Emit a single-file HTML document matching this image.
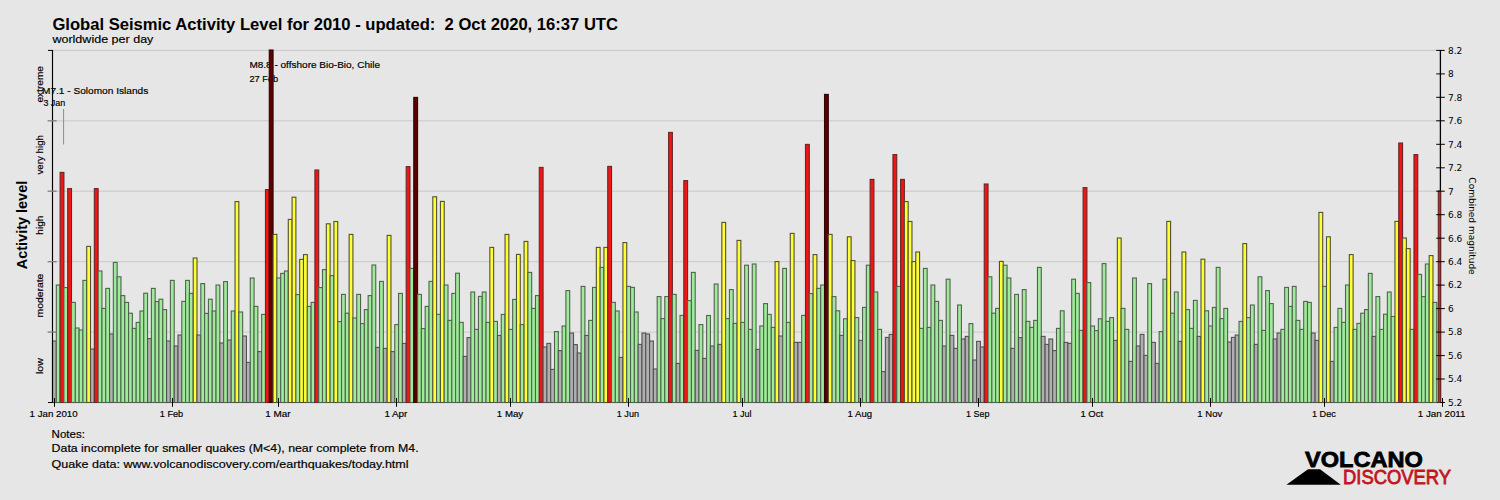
<!DOCTYPE html>
<html lang="en"><head><meta charset="utf-8">
<title>Global Seismic Activity Level for 2010</title>
<style>
html,body{margin:0;padding:0;background:#e6e6e6;}
body{width:1500px;height:500px;overflow:hidden;}
svg{display:block;}
text{font-family:'Liberation Sans', Arial, Helvetica, sans-serif;fill:#000;}.t{stroke:#000;stroke-width:0.18px}
.dj{font-family:'DejaVu Sans', 'Liberation Sans', Verdana, sans-serif;}
.g{fill:#a0eb9b;stroke:#50624e}.a{fill:#b0b0b0;stroke:#525252}.y{fill:#ffff33;stroke:#505034}.r{fill:#f51414;stroke:#642828}.d{fill:#5c0000;stroke:#2e0404}
#bars rect{stroke-width:1.1}
</style></head><body>
<svg width="1500" height="500" viewBox="0 0 1500 500">
<rect x="0" y="0" width="1500" height="500" fill="#e6e6e6"/>
<g stroke="#c9c9c9" stroke-width="1">
<line x1="52.5" y1="50.4" x2="1440.4" y2="50.4"/>
<line x1="52.5" y1="120.8" x2="1440.4" y2="120.8"/>
<line x1="52.5" y1="191.2" x2="1440.4" y2="191.2"/>
<line x1="52.5" y1="261.7" x2="1440.4" y2="261.7"/>
<line x1="52.5" y1="332.1" x2="1440.4" y2="332.1"/>
</g>
<text xml:space="preserve" style="white-space:pre" x="52.4" y="29.5" font-size="16.5" font-weight="bold" textLength="565.6" lengthAdjust="spacingAndGlyphs">Global Seismic Activity Level for 2010 - updated:  2 Oct 2020, 16:37 UTC</text>
<text x="52.4" y="43" class="t" font-size="11.4" textLength="101" lengthAdjust="spacingAndGlyphs">worldwide per day</text>
<text transform="translate(42.8,366.0) rotate(-90)" x="-8.0" y="0" class="t" font-size="9.8" textLength="16.0" lengthAdjust="spacingAndGlyphs">low</text>
<text transform="translate(42.8,295.6) rotate(-90)" x="-21.9" y="0" class="t" font-size="9.8" textLength="43.8" lengthAdjust="spacingAndGlyphs">moderate</text>
<text transform="translate(42.8,225.1) rotate(-90)" x="-9.7" y="0" class="t" font-size="9.8" textLength="19.3" lengthAdjust="spacingAndGlyphs">high</text>
<text transform="translate(42.8,154.7) rotate(-90)" x="-19.8" y="0" class="t" font-size="9.8" textLength="39.5" lengthAdjust="spacingAndGlyphs">very high</text>
<text transform="translate(42.8,84.3) rotate(-90)" x="-18.3" y="0" class="t" font-size="9.8" textLength="36.6" lengthAdjust="spacingAndGlyphs">extreme</text>
<text transform="translate(27,225) rotate(-90)" text-anchor="middle" font-size="15" font-weight="bold" textLength="88.5" lengthAdjust="spacingAndGlyphs">Activity level</text>
<line x1="1440.4" y1="49.9" x2="1440.4" y2="403.0" stroke="#000" stroke-width="1.3"/>
<line x1="48" y1="402.5" x2="1444.7" y2="402.5" stroke="#000" stroke-width="1"/>
<line x1="63.6" y1="109" x2="63.6" y2="144.5" stroke="#8c8c8c" stroke-width="1"/>
<text x="42" y="94" class="t" font-size="9.6" textLength="106.2" lengthAdjust="spacingAndGlyphs">M7.1 - Solomon Islands</text>
<text x="43.4" y="106.4" class="t" font-size="9.6" textLength="21.8" lengthAdjust="spacingAndGlyphs">3 Jan</text>
<text x="249.4" y="68" class="t" font-size="9.6" textLength="130.6" lengthAdjust="spacingAndGlyphs">M8.8 - offshore Bio-Bio, Chile</text>
<text x="249.4" y="82" class="t" font-size="9.6" textLength="28.8" lengthAdjust="spacingAndGlyphs">27 Feb</text>
<g id="bars">
<rect class="a" x="52.50" y="341.0" width="3.80" height="61.5"/>
<rect class="g" x="56.30" y="285.0" width="3.80" height="117.5"/>
<rect class="r" x="60.11" y="172.4" width="3.80" height="230.1"/>
<rect class="g" x="63.91" y="287.6" width="3.80" height="114.9"/>
<rect class="r" x="67.71" y="188.6" width="3.80" height="213.9"/>
<rect class="g" x="71.52" y="302.4" width="3.80" height="100.1"/>
<rect class="g" x="75.32" y="328.0" width="3.80" height="74.5"/>
<rect class="g" x="79.12" y="330.0" width="3.80" height="72.5"/>
<rect class="g" x="82.92" y="280.4" width="3.80" height="122.1"/>
<rect class="y" x="86.73" y="246.4" width="3.80" height="156.1"/>
<rect class="a" x="90.53" y="349.0" width="3.80" height="53.5"/>
<rect class="r" x="94.33" y="188.6" width="3.80" height="213.9"/>
<rect class="g" x="98.14" y="271.0" width="3.80" height="131.5"/>
<rect class="g" x="101.94" y="308.4" width="3.80" height="94.1"/>
<rect class="g" x="105.74" y="288.4" width="3.80" height="114.1"/>
<rect class="a" x="109.55" y="334.0" width="3.80" height="68.5"/>
<rect class="g" x="113.35" y="262.4" width="3.80" height="140.1"/>
<rect class="g" x="117.15" y="276.8" width="3.80" height="125.7"/>
<rect class="g" x="120.95" y="295.6" width="3.80" height="106.9"/>
<rect class="g" x="124.76" y="302.4" width="3.80" height="100.1"/>
<rect class="g" x="128.56" y="313.2" width="3.80" height="89.3"/>
<rect class="g" x="132.36" y="328.4" width="3.80" height="74.1"/>
<rect class="g" x="136.17" y="322.4" width="3.80" height="80.1"/>
<rect class="g" x="139.97" y="311.0" width="3.80" height="91.5"/>
<rect class="g" x="143.77" y="293.2" width="3.80" height="109.3"/>
<rect class="a" x="147.57" y="338.6" width="3.80" height="63.9"/>
<rect class="g" x="151.38" y="288.4" width="3.80" height="114.1"/>
<rect class="g" x="155.18" y="301.6" width="3.80" height="100.9"/>
<rect class="g" x="158.98" y="299.2" width="3.80" height="103.3"/>
<rect class="g" x="162.79" y="309.6" width="3.80" height="92.9"/>
<rect class="a" x="166.59" y="341.0" width="3.80" height="61.5"/>
<rect class="g" x="170.39" y="280.4" width="3.80" height="122.1"/>
<rect class="a" x="174.20" y="346.0" width="3.80" height="56.5"/>
<rect class="a" x="178.00" y="335.0" width="3.80" height="67.5"/>
<rect class="g" x="181.80" y="301.4" width="3.80" height="101.1"/>
<rect class="g" x="185.60" y="280.4" width="3.80" height="122.1"/>
<rect class="g" x="189.41" y="293.4" width="3.80" height="109.1"/>
<rect class="y" x="193.21" y="258.0" width="3.80" height="144.5"/>
<rect class="a" x="197.01" y="335.0" width="3.80" height="67.5"/>
<rect class="g" x="200.82" y="283.6" width="3.80" height="118.9"/>
<rect class="g" x="204.62" y="313.4" width="3.80" height="89.1"/>
<rect class="g" x="208.42" y="299.2" width="3.80" height="103.3"/>
<rect class="g" x="212.23" y="311.0" width="3.80" height="91.5"/>
<rect class="g" x="216.03" y="285.0" width="3.80" height="117.5"/>
<rect class="a" x="219.83" y="343.0" width="3.80" height="59.5"/>
<rect class="g" x="223.63" y="281.6" width="3.80" height="120.9"/>
<rect class="a" x="227.44" y="340.0" width="3.80" height="62.5"/>
<rect class="g" x="231.24" y="311.0" width="3.80" height="91.5"/>
<rect class="y" x="235.04" y="201.6" width="3.80" height="200.9"/>
<rect class="g" x="238.85" y="312.0" width="3.80" height="90.5"/>
<rect class="a" x="242.65" y="336.0" width="3.80" height="66.5"/>
<rect class="a" x="246.45" y="362.4" width="3.80" height="40.1"/>
<rect class="g" x="250.26" y="278.0" width="3.80" height="124.5"/>
<rect class="g" x="254.06" y="306.4" width="3.80" height="96.1"/>
<rect class="a" x="257.86" y="351.6" width="3.80" height="50.9"/>
<rect class="g" x="261.66" y="314.4" width="3.80" height="88.1"/>
<rect class="r" x="265.47" y="189.6" width="3.80" height="212.9"/>
<rect class="d" x="269.27" y="50.0" width="3.80" height="352.5"/>
<rect class="y" x="273.07" y="234.4" width="3.80" height="168.1"/>
<rect class="g" x="276.88" y="278.0" width="3.80" height="124.5"/>
<rect class="g" x="280.68" y="273.4" width="3.80" height="129.1"/>
<rect class="g" x="284.48" y="271.0" width="3.80" height="131.5"/>
<rect class="y" x="288.29" y="219.4" width="3.80" height="183.1"/>
<rect class="y" x="292.09" y="197.2" width="3.80" height="205.3"/>
<rect class="g" x="295.89" y="294.6" width="3.80" height="107.9"/>
<rect class="y" x="299.69" y="259.4" width="3.80" height="143.1"/>
<rect class="y" x="303.50" y="254.6" width="3.80" height="147.9"/>
<rect class="g" x="307.30" y="306.4" width="3.80" height="96.1"/>
<rect class="g" x="311.10" y="302.4" width="3.80" height="100.1"/>
<rect class="r" x="314.91" y="170.0" width="3.80" height="232.5"/>
<rect class="g" x="318.71" y="287.6" width="3.80" height="114.9"/>
<rect class="g" x="322.51" y="269.6" width="3.80" height="132.9"/>
<rect class="y" x="326.32" y="223.8" width="3.80" height="178.7"/>
<rect class="g" x="330.12" y="275.6" width="3.80" height="126.9"/>
<rect class="y" x="333.92" y="221.5" width="3.80" height="181.0"/>
<rect class="g" x="337.73" y="321.6" width="3.80" height="80.9"/>
<rect class="g" x="341.53" y="294.4" width="3.80" height="108.1"/>
<rect class="g" x="345.33" y="313.2" width="3.80" height="89.3"/>
<rect class="y" x="349.13" y="234.4" width="3.80" height="168.1"/>
<rect class="g" x="352.94" y="318.0" width="3.80" height="84.5"/>
<rect class="g" x="356.74" y="294.4" width="3.80" height="108.1"/>
<rect class="g" x="360.54" y="323.6" width="3.80" height="78.9"/>
<rect class="g" x="364.35" y="309.6" width="3.80" height="92.9"/>
<rect class="g" x="368.15" y="295.6" width="3.80" height="106.9"/>
<rect class="g" x="371.95" y="265.0" width="3.80" height="137.5"/>
<rect class="a" x="375.75" y="347.4" width="3.80" height="55.1"/>
<rect class="g" x="379.56" y="281.4" width="3.80" height="121.1"/>
<rect class="a" x="383.36" y="348.4" width="3.80" height="54.1"/>
<rect class="y" x="387.16" y="235.4" width="3.80" height="167.1"/>
<rect class="a" x="390.97" y="351.6" width="3.80" height="50.9"/>
<rect class="g" x="394.77" y="324.6" width="3.80" height="77.9"/>
<rect class="g" x="398.57" y="293.4" width="3.80" height="109.1"/>
<rect class="a" x="402.38" y="343.4" width="3.80" height="59.1"/>
<rect class="r" x="406.18" y="166.6" width="3.80" height="235.9"/>
<rect class="g" x="409.98" y="268.4" width="3.80" height="134.1"/>
<rect class="d" x="413.78" y="97.4" width="3.80" height="305.1"/>
<rect class="g" x="417.59" y="294.4" width="3.80" height="108.1"/>
<rect class="g" x="421.39" y="328.6" width="3.80" height="73.9"/>
<rect class="g" x="425.19" y="306.4" width="3.80" height="96.1"/>
<rect class="g" x="429.00" y="281.4" width="3.80" height="121.1"/>
<rect class="y" x="432.80" y="196.8" width="3.80" height="205.7"/>
<rect class="g" x="436.60" y="314.4" width="3.80" height="88.1"/>
<rect class="y" x="440.41" y="201.4" width="3.80" height="201.1"/>
<rect class="g" x="444.21" y="285.0" width="3.80" height="117.5"/>
<rect class="g" x="448.01" y="320.4" width="3.80" height="82.1"/>
<rect class="g" x="451.81" y="293.4" width="3.80" height="109.1"/>
<rect class="g" x="455.62" y="273.2" width="3.80" height="129.3"/>
<rect class="g" x="459.42" y="322.4" width="3.80" height="80.1"/>
<rect class="a" x="463.22" y="356.4" width="3.80" height="46.1"/>
<rect class="a" x="467.03" y="337.6" width="3.80" height="64.9"/>
<rect class="g" x="470.83" y="292.0" width="3.80" height="110.5"/>
<rect class="g" x="474.63" y="329.4" width="3.80" height="73.1"/>
<rect class="g" x="478.44" y="296.4" width="3.80" height="106.1"/>
<rect class="g" x="482.24" y="292.0" width="3.80" height="110.5"/>
<rect class="g" x="486.04" y="322.4" width="3.80" height="80.1"/>
<rect class="y" x="489.84" y="247.4" width="3.80" height="155.1"/>
<rect class="g" x="493.65" y="321.4" width="3.80" height="81.1"/>
<rect class="a" x="497.45" y="335.4" width="3.80" height="67.1"/>
<rect class="g" x="501.25" y="314.4" width="3.80" height="88.1"/>
<rect class="y" x="505.06" y="234.4" width="3.80" height="168.1"/>
<rect class="g" x="508.86" y="329.4" width="3.80" height="73.1"/>
<rect class="g" x="512.66" y="299.4" width="3.80" height="103.1"/>
<rect class="y" x="516.47" y="254.4" width="3.80" height="148.1"/>
<rect class="g" x="520.27" y="324.6" width="3.80" height="77.9"/>
<rect class="y" x="524.07" y="241.4" width="3.80" height="161.1"/>
<rect class="g" x="527.88" y="272.4" width="3.80" height="130.1"/>
<rect class="g" x="531.68" y="308.4" width="3.80" height="94.1"/>
<rect class="g" x="535.48" y="295.6" width="3.80" height="106.9"/>
<rect class="r" x="539.28" y="167.4" width="3.80" height="235.1"/>
<rect class="a" x="543.09" y="347.0" width="3.80" height="55.5"/>
<rect class="a" x="546.89" y="343.4" width="3.80" height="59.1"/>
<rect class="a" x="550.69" y="369.4" width="3.80" height="33.1"/>
<rect class="g" x="554.50" y="331.6" width="3.80" height="70.9"/>
<rect class="a" x="558.30" y="350.6" width="3.80" height="51.9"/>
<rect class="g" x="562.10" y="326.0" width="3.80" height="76.5"/>
<rect class="g" x="565.90" y="290.6" width="3.80" height="111.9"/>
<rect class="a" x="569.71" y="333.0" width="3.80" height="69.5"/>
<rect class="a" x="573.51" y="344.6" width="3.80" height="57.9"/>
<rect class="a" x="577.31" y="353.0" width="3.80" height="49.5"/>
<rect class="g" x="581.12" y="286.4" width="3.80" height="116.1"/>
<rect class="a" x="584.92" y="335.4" width="3.80" height="67.1"/>
<rect class="g" x="588.72" y="320.4" width="3.80" height="82.1"/>
<rect class="g" x="592.53" y="287.4" width="3.80" height="115.1"/>
<rect class="y" x="596.33" y="247.4" width="3.80" height="155.1"/>
<rect class="g" x="600.13" y="267.4" width="3.80" height="135.1"/>
<rect class="y" x="603.93" y="247.4" width="3.80" height="155.1"/>
<rect class="r" x="607.74" y="166.4" width="3.80" height="236.1"/>
<rect class="g" x="611.54" y="302.4" width="3.80" height="100.1"/>
<rect class="g" x="615.34" y="311.0" width="3.80" height="91.5"/>
<rect class="a" x="619.15" y="357.4" width="3.80" height="45.1"/>
<rect class="y" x="622.95" y="242.6" width="3.80" height="159.9"/>
<rect class="g" x="626.75" y="286.4" width="3.80" height="116.1"/>
<rect class="g" x="630.56" y="287.4" width="3.80" height="115.1"/>
<rect class="g" x="634.36" y="312.0" width="3.80" height="90.5"/>
<rect class="a" x="638.16" y="344.4" width="3.80" height="58.1"/>
<rect class="a" x="641.97" y="333.0" width="3.80" height="69.5"/>
<rect class="a" x="645.77" y="334.0" width="3.80" height="68.5"/>
<rect class="a" x="649.57" y="341.0" width="3.80" height="61.5"/>
<rect class="a" x="653.37" y="369.0" width="3.80" height="33.5"/>
<rect class="g" x="657.18" y="296.6" width="3.80" height="105.9"/>
<rect class="g" x="660.98" y="318.6" width="3.80" height="83.9"/>
<rect class="g" x="664.78" y="296.6" width="3.80" height="105.9"/>
<rect class="r" x="668.59" y="132.4" width="3.80" height="270.1"/>
<rect class="g" x="672.39" y="294.4" width="3.80" height="108.1"/>
<rect class="a" x="676.19" y="363.4" width="3.80" height="39.1"/>
<rect class="g" x="680.00" y="315.4" width="3.80" height="87.1"/>
<rect class="r" x="683.80" y="180.6" width="3.80" height="221.9"/>
<rect class="g" x="687.60" y="300.6" width="3.80" height="101.9"/>
<rect class="g" x="691.40" y="272.4" width="3.80" height="130.1"/>
<rect class="a" x="695.21" y="350.4" width="3.80" height="52.1"/>
<rect class="g" x="699.01" y="324.6" width="3.80" height="77.9"/>
<rect class="a" x="702.81" y="358.4" width="3.80" height="44.1"/>
<rect class="g" x="706.62" y="315.5" width="3.80" height="87.0"/>
<rect class="a" x="710.42" y="346.0" width="3.80" height="56.5"/>
<rect class="g" x="714.22" y="284.0" width="3.80" height="118.5"/>
<rect class="a" x="718.02" y="344.4" width="3.80" height="58.1"/>
<rect class="y" x="721.83" y="222.4" width="3.80" height="180.1"/>
<rect class="g" x="725.63" y="318.6" width="3.80" height="83.9"/>
<rect class="g" x="729.43" y="289.6" width="3.80" height="112.9"/>
<rect class="g" x="733.24" y="323.4" width="3.80" height="79.1"/>
<rect class="y" x="737.04" y="240.4" width="3.80" height="162.1"/>
<rect class="g" x="740.84" y="322.4" width="3.80" height="80.1"/>
<rect class="g" x="744.65" y="265.2" width="3.80" height="137.3"/>
<rect class="g" x="748.45" y="329.4" width="3.80" height="73.1"/>
<rect class="g" x="752.25" y="264.0" width="3.80" height="138.5"/>
<rect class="a" x="756.05" y="349.4" width="3.80" height="53.1"/>
<rect class="g" x="759.86" y="326.0" width="3.80" height="76.5"/>
<rect class="g" x="763.66" y="303.6" width="3.80" height="98.9"/>
<rect class="g" x="767.46" y="314.4" width="3.80" height="88.1"/>
<rect class="g" x="771.27" y="327.4" width="3.80" height="75.1"/>
<rect class="y" x="775.07" y="261.6" width="3.80" height="140.9"/>
<rect class="a" x="778.87" y="336.0" width="3.80" height="66.5"/>
<rect class="g" x="782.68" y="268.4" width="3.80" height="134.1"/>
<rect class="g" x="786.48" y="322.4" width="3.80" height="80.1"/>
<rect class="y" x="790.28" y="233.4" width="3.80" height="169.1"/>
<rect class="a" x="794.09" y="342.4" width="3.80" height="60.1"/>
<rect class="a" x="797.89" y="342.4" width="3.80" height="60.1"/>
<rect class="g" x="801.69" y="315.4" width="3.80" height="87.1"/>
<rect class="r" x="805.49" y="144.4" width="3.80" height="258.1"/>
<rect class="g" x="809.30" y="293.6" width="3.80" height="108.9"/>
<rect class="y" x="813.10" y="254.6" width="3.80" height="147.9"/>
<rect class="g" x="816.90" y="288.4" width="3.80" height="114.1"/>
<rect class="g" x="820.71" y="285.0" width="3.80" height="117.5"/>
<rect class="d" x="824.51" y="94.4" width="3.80" height="308.1"/>
<rect class="y" x="828.31" y="234.4" width="3.80" height="168.1"/>
<rect class="g" x="832.12" y="296.6" width="3.80" height="105.9"/>
<rect class="g" x="835.92" y="310.8" width="3.80" height="91.7"/>
<rect class="a" x="839.72" y="335.4" width="3.80" height="67.1"/>
<rect class="g" x="843.52" y="318.8" width="3.80" height="83.7"/>
<rect class="y" x="847.33" y="236.8" width="3.80" height="165.7"/>
<rect class="y" x="851.13" y="260.6" width="3.80" height="141.9"/>
<rect class="g" x="854.93" y="317.6" width="3.80" height="84.9"/>
<rect class="a" x="858.74" y="340.4" width="3.80" height="62.1"/>
<rect class="g" x="862.54" y="307.4" width="3.80" height="95.1"/>
<rect class="g" x="866.34" y="265.2" width="3.80" height="137.3"/>
<rect class="r" x="870.14" y="179.4" width="3.80" height="223.1"/>
<rect class="g" x="873.95" y="292.0" width="3.80" height="110.5"/>
<rect class="g" x="877.75" y="329.4" width="3.80" height="73.1"/>
<rect class="a" x="881.55" y="371.6" width="3.80" height="30.9"/>
<rect class="a" x="885.36" y="337.4" width="3.80" height="65.1"/>
<rect class="a" x="889.16" y="334.4" width="3.80" height="68.1"/>
<rect class="r" x="892.96" y="154.6" width="3.80" height="247.9"/>
<rect class="g" x="896.77" y="286.4" width="3.80" height="116.1"/>
<rect class="r" x="900.57" y="179.4" width="3.80" height="223.1"/>
<rect class="y" x="904.37" y="201.6" width="3.80" height="200.9"/>
<rect class="y" x="908.17" y="221.5" width="3.80" height="181.0"/>
<rect class="y" x="911.98" y="261.6" width="3.80" height="140.9"/>
<rect class="y" x="915.78" y="252.0" width="3.80" height="150.5"/>
<rect class="g" x="919.58" y="328.4" width="3.80" height="74.1"/>
<rect class="g" x="923.39" y="268.4" width="3.80" height="134.1"/>
<rect class="g" x="927.19" y="327.4" width="3.80" height="75.1"/>
<rect class="g" x="930.99" y="285.0" width="3.80" height="117.5"/>
<rect class="g" x="934.80" y="301.4" width="3.80" height="101.1"/>
<rect class="g" x="938.60" y="320.4" width="3.80" height="82.1"/>
<rect class="a" x="942.40" y="346.0" width="3.80" height="56.5"/>
<rect class="g" x="946.21" y="279.2" width="3.80" height="123.3"/>
<rect class="a" x="950.01" y="335.4" width="3.80" height="67.1"/>
<rect class="a" x="953.81" y="348.4" width="3.80" height="54.1"/>
<rect class="g" x="957.61" y="305.0" width="3.80" height="97.5"/>
<rect class="a" x="961.42" y="339.0" width="3.80" height="63.5"/>
<rect class="a" x="965.22" y="336.4" width="3.80" height="66.1"/>
<rect class="g" x="969.02" y="323.6" width="3.80" height="78.9"/>
<rect class="a" x="972.83" y="360.0" width="3.80" height="42.5"/>
<rect class="a" x="976.63" y="341.4" width="3.80" height="61.1"/>
<rect class="a" x="980.43" y="347.0" width="3.80" height="55.5"/>
<rect class="r" x="984.24" y="184.0" width="3.80" height="218.5"/>
<rect class="g" x="988.04" y="276.8" width="3.80" height="125.7"/>
<rect class="g" x="991.84" y="313.2" width="3.80" height="89.3"/>
<rect class="g" x="995.64" y="308.4" width="3.80" height="94.1"/>
<rect class="y" x="999.45" y="261.4" width="3.80" height="141.1"/>
<rect class="g" x="1003.25" y="265.2" width="3.80" height="137.3"/>
<rect class="g" x="1007.05" y="278.0" width="3.80" height="124.5"/>
<rect class="a" x="1010.86" y="348.4" width="3.80" height="54.1"/>
<rect class="g" x="1014.66" y="294.4" width="3.80" height="108.1"/>
<rect class="a" x="1018.46" y="337.6" width="3.80" height="64.9"/>
<rect class="g" x="1022.26" y="289.6" width="3.80" height="112.9"/>
<rect class="g" x="1026.07" y="321.4" width="3.80" height="81.1"/>
<rect class="g" x="1029.87" y="327.4" width="3.80" height="75.1"/>
<rect class="g" x="1033.67" y="320.4" width="3.80" height="82.1"/>
<rect class="g" x="1037.48" y="267.4" width="3.80" height="135.1"/>
<rect class="a" x="1041.28" y="336.4" width="3.80" height="66.1"/>
<rect class="a" x="1045.08" y="344.4" width="3.80" height="58.1"/>
<rect class="a" x="1048.89" y="339.0" width="3.80" height="63.5"/>
<rect class="a" x="1052.69" y="350.6" width="3.80" height="51.9"/>
<rect class="g" x="1056.49" y="328.4" width="3.80" height="74.1"/>
<rect class="g" x="1060.30" y="310.8" width="3.80" height="91.7"/>
<rect class="a" x="1064.10" y="342.4" width="3.80" height="60.1"/>
<rect class="a" x="1067.90" y="343.4" width="3.80" height="59.1"/>
<rect class="g" x="1071.70" y="279.2" width="3.80" height="123.3"/>
<rect class="g" x="1075.51" y="293.4" width="3.80" height="109.1"/>
<rect class="g" x="1079.31" y="330.4" width="3.80" height="72.1"/>
<rect class="r" x="1083.11" y="187.6" width="3.80" height="214.9"/>
<rect class="g" x="1086.92" y="282.6" width="3.80" height="119.9"/>
<rect class="g" x="1090.72" y="326.0" width="3.80" height="76.5"/>
<rect class="g" x="1094.52" y="330.6" width="3.80" height="71.9"/>
<rect class="g" x="1098.33" y="318.8" width="3.80" height="83.7"/>
<rect class="g" x="1102.13" y="263.6" width="3.80" height="138.9"/>
<rect class="g" x="1105.93" y="321.4" width="3.80" height="81.1"/>
<rect class="g" x="1109.73" y="317.6" width="3.80" height="84.9"/>
<rect class="a" x="1113.54" y="340.4" width="3.80" height="62.1"/>
<rect class="y" x="1117.34" y="238.0" width="3.80" height="164.5"/>
<rect class="g" x="1121.14" y="308.4" width="3.80" height="94.1"/>
<rect class="g" x="1124.95" y="329.4" width="3.80" height="73.1"/>
<rect class="a" x="1128.75" y="361.4" width="3.80" height="41.1"/>
<rect class="g" x="1132.55" y="278.0" width="3.80" height="124.5"/>
<rect class="a" x="1136.36" y="346.0" width="3.80" height="56.5"/>
<rect class="a" x="1140.16" y="334.4" width="3.80" height="68.1"/>
<rect class="a" x="1143.96" y="355.4" width="3.80" height="47.1"/>
<rect class="g" x="1147.76" y="283.6" width="3.80" height="118.9"/>
<rect class="a" x="1151.57" y="342.4" width="3.80" height="60.1"/>
<rect class="a" x="1155.37" y="363.4" width="3.80" height="39.1"/>
<rect class="g" x="1159.17" y="331.6" width="3.80" height="70.9"/>
<rect class="g" x="1162.98" y="279.2" width="3.80" height="123.3"/>
<rect class="y" x="1166.78" y="221.4" width="3.80" height="181.1"/>
<rect class="g" x="1170.58" y="313.2" width="3.80" height="89.3"/>
<rect class="g" x="1174.38" y="292.0" width="3.80" height="110.5"/>
<rect class="a" x="1178.19" y="341.4" width="3.80" height="61.1"/>
<rect class="y" x="1181.99" y="252.0" width="3.80" height="150.5"/>
<rect class="g" x="1185.79" y="309.6" width="3.80" height="92.9"/>
<rect class="g" x="1189.60" y="328.4" width="3.80" height="74.1"/>
<rect class="g" x="1193.40" y="300.4" width="3.80" height="102.1"/>
<rect class="a" x="1197.20" y="336.4" width="3.80" height="66.1"/>
<rect class="y" x="1201.01" y="259.2" width="3.80" height="143.3"/>
<rect class="g" x="1204.81" y="310.8" width="3.80" height="91.7"/>
<rect class="g" x="1208.61" y="326.0" width="3.80" height="76.5"/>
<rect class="g" x="1212.41" y="307.4" width="3.80" height="95.1"/>
<rect class="g" x="1216.22" y="267.4" width="3.80" height="135.1"/>
<rect class="g" x="1220.02" y="318.6" width="3.80" height="83.9"/>
<rect class="g" x="1223.82" y="308.4" width="3.80" height="94.1"/>
<rect class="a" x="1227.63" y="342.0" width="3.80" height="60.5"/>
<rect class="a" x="1231.43" y="337.4" width="3.80" height="65.1"/>
<rect class="a" x="1235.23" y="335.0" width="3.80" height="67.5"/>
<rect class="g" x="1239.04" y="321.4" width="3.80" height="81.1"/>
<rect class="y" x="1242.84" y="243.6" width="3.80" height="158.9"/>
<rect class="g" x="1246.64" y="317.6" width="3.80" height="84.9"/>
<rect class="g" x="1250.44" y="305.0" width="3.80" height="97.5"/>
<rect class="a" x="1254.25" y="344.4" width="3.80" height="58.1"/>
<rect class="g" x="1258.05" y="276.8" width="3.80" height="125.7"/>
<rect class="g" x="1261.85" y="330.4" width="3.80" height="72.1"/>
<rect class="g" x="1265.66" y="290.6" width="3.80" height="111.9"/>
<rect class="g" x="1269.46" y="303.6" width="3.80" height="98.9"/>
<rect class="a" x="1273.26" y="339.0" width="3.80" height="63.5"/>
<rect class="a" x="1277.07" y="333.0" width="3.80" height="69.5"/>
<rect class="g" x="1280.87" y="329.4" width="3.80" height="73.1"/>
<rect class="g" x="1284.67" y="287.4" width="3.80" height="115.1"/>
<rect class="g" x="1288.47" y="306.4" width="3.80" height="96.1"/>
<rect class="g" x="1292.28" y="286.4" width="3.80" height="116.1"/>
<rect class="g" x="1296.08" y="320.4" width="3.80" height="82.1"/>
<rect class="g" x="1299.88" y="329.4" width="3.80" height="73.1"/>
<rect class="g" x="1303.69" y="301.4" width="3.80" height="101.1"/>
<rect class="g" x="1307.49" y="302.4" width="3.80" height="100.1"/>
<rect class="a" x="1311.29" y="333.0" width="3.80" height="69.5"/>
<rect class="a" x="1315.10" y="340.4" width="3.80" height="62.1"/>
<rect class="y" x="1318.90" y="212.4" width="3.80" height="190.1"/>
<rect class="g" x="1322.70" y="286.4" width="3.80" height="116.1"/>
<rect class="y" x="1326.50" y="236.8" width="3.80" height="165.7"/>
<rect class="a" x="1330.31" y="361.4" width="3.80" height="41.1"/>
<rect class="g" x="1334.11" y="327.4" width="3.80" height="75.1"/>
<rect class="g" x="1337.91" y="308.4" width="3.80" height="94.1"/>
<rect class="g" x="1341.72" y="322.4" width="3.80" height="80.1"/>
<rect class="g" x="1345.52" y="285.0" width="3.80" height="117.5"/>
<rect class="y" x="1349.32" y="254.6" width="3.80" height="147.9"/>
<rect class="g" x="1353.13" y="329.4" width="3.80" height="73.1"/>
<rect class="g" x="1356.93" y="323.4" width="3.80" height="79.1"/>
<rect class="g" x="1360.73" y="313.2" width="3.80" height="89.3"/>
<rect class="g" x="1364.54" y="309.6" width="3.80" height="92.9"/>
<rect class="g" x="1368.34" y="273.4" width="3.80" height="129.1"/>
<rect class="a" x="1372.14" y="336.4" width="3.80" height="66.1"/>
<rect class="g" x="1375.94" y="296.6" width="3.80" height="105.9"/>
<rect class="g" x="1379.75" y="329.4" width="3.80" height="73.1"/>
<rect class="g" x="1383.55" y="314.2" width="3.80" height="88.3"/>
<rect class="g" x="1387.35" y="292.0" width="3.80" height="110.5"/>
<rect class="g" x="1391.16" y="316.5" width="3.80" height="86.0"/>
<rect class="y" x="1394.96" y="221.4" width="3.80" height="181.1"/>
<rect class="r" x="1398.76" y="143.0" width="3.80" height="259.5"/>
<rect class="y" x="1402.57" y="238.0" width="3.80" height="164.5"/>
<rect class="y" x="1406.37" y="248.6" width="3.80" height="153.9"/>
<rect class="g" x="1410.17" y="329.4" width="3.80" height="73.1"/>
<rect class="r" x="1413.97" y="154.6" width="3.80" height="247.9"/>
<rect class="g" x="1417.78" y="274.4" width="3.80" height="128.1"/>
<rect class="g" x="1421.58" y="296.6" width="3.80" height="105.9"/>
<rect class="g" x="1425.38" y="264.0" width="3.80" height="138.5"/>
<rect class="y" x="1429.19" y="255.6" width="3.80" height="146.9"/>
<rect class="g" x="1432.99" y="302.4" width="3.80" height="100.1"/>
<rect class="r" x="1438.30" y="191.0" width="2.40" height="211.5"/>
</g>
<g stroke="#000">
<line x1="52.5" y1="49.9" x2="52.5" y2="403.0" stroke-width="1.15"/>
<line x1="48" y1="50.4" x2="52.5" y2="50.4" stroke-width="1"/>
<line x1="47.6" y1="120.8" x2="56.6" y2="120.8" stroke="#7f7f7f" stroke-width="1.3"/>
<line x1="47.6" y1="191.2" x2="56.6" y2="191.2" stroke="#7f7f7f" stroke-width="1.3"/>
<line x1="47.6" y1="261.7" x2="56.6" y2="261.7" stroke="#7f7f7f" stroke-width="1.3"/>
<line x1="47.6" y1="332.1" x2="56.6" y2="332.1" stroke="#7f7f7f" stroke-width="1.3"/>
<line x1="48" y1="402.5" x2="52.5" y2="402.5" stroke-width="1"/>
<line x1="1440.4" y1="402.5" x2="1444.8" y2="402.5" stroke-width="1"/>
<line x1="1436.2" y1="379.0" x2="1444.8" y2="379.0" stroke-width="1"/>
<line x1="1436.2" y1="355.6" x2="1444.8" y2="355.6" stroke-width="1"/>
<line x1="1436.2" y1="332.1" x2="1444.8" y2="332.1" stroke-width="1"/>
<line x1="1436.2" y1="308.6" x2="1444.8" y2="308.6" stroke-width="1"/>
<line x1="1436.2" y1="285.1" x2="1444.8" y2="285.1" stroke-width="1"/>
<line x1="1436.2" y1="261.7" x2="1444.8" y2="261.7" stroke-width="1"/>
<line x1="1436.2" y1="238.2" x2="1444.8" y2="238.2" stroke-width="1"/>
<line x1="1436.2" y1="214.7" x2="1444.8" y2="214.7" stroke-width="1"/>
<line x1="1436.2" y1="191.2" x2="1444.8" y2="191.2" stroke-width="1"/>
<line x1="1436.2" y1="167.8" x2="1444.8" y2="167.8" stroke-width="1"/>
<line x1="1436.2" y1="144.3" x2="1444.8" y2="144.3" stroke-width="1"/>
<line x1="1436.2" y1="120.8" x2="1444.8" y2="120.8" stroke-width="1"/>
<line x1="1436.2" y1="97.3" x2="1444.8" y2="97.3" stroke-width="1"/>
<line x1="1436.2" y1="73.9" x2="1444.8" y2="73.9" stroke-width="1"/>
<line x1="1436.2" y1="50.4" x2="1444.8" y2="50.4" stroke-width="1"/>
<line x1="54.5" y1="398" x2="54.5" y2="406.8" stroke-width="1"/>
<line x1="172.5" y1="398" x2="172.5" y2="406.8" stroke-width="1"/>
<line x1="278.5" y1="398" x2="278.5" y2="406.8" stroke-width="1"/>
<line x1="396.5" y1="398" x2="396.5" y2="406.8" stroke-width="1"/>
<line x1="510.5" y1="398" x2="510.5" y2="406.8" stroke-width="1"/>
<line x1="628.5" y1="398" x2="628.5" y2="406.8" stroke-width="1"/>
<line x1="742.5" y1="398" x2="742.5" y2="406.8" stroke-width="1"/>
<line x1="860.5" y1="398" x2="860.5" y2="406.8" stroke-width="1"/>
<line x1="978.5" y1="398" x2="978.5" y2="406.8" stroke-width="1"/>
<line x1="1092.5" y1="398" x2="1092.5" y2="406.8" stroke-width="1"/>
<line x1="1210.5" y1="398" x2="1210.5" y2="406.8" stroke-width="1"/>
<line x1="1324.5" y1="398" x2="1324.5" y2="406.8" stroke-width="1"/>
<line x1="1442.5" y1="398" x2="1442.5" y2="406.8" stroke-width="1"/>
</g>
<g class="dj" font-size="9">
<text class="dj" x="1448" y="405.8">5.2</text>
<text class="dj" x="1448" y="382.3">5.4</text>
<text class="dj" x="1448" y="358.9">5.6</text>
<text class="dj" x="1448" y="335.4">5.8</text>
<text class="dj" x="1448" y="311.9">6</text>
<text class="dj" x="1448" y="288.4">6.2</text>
<text class="dj" x="1448" y="265.0">6.4</text>
<text class="dj" x="1448" y="241.5">6.6</text>
<text class="dj" x="1448" y="218.0">6.8</text>
<text class="dj" x="1448" y="194.5">7</text>
<text class="dj" x="1448" y="171.1">7.2</text>
<text class="dj" x="1448" y="147.6">7.4</text>
<text class="dj" x="1448" y="124.1">7.6</text>
<text class="dj" x="1448" y="100.6">7.8</text>
<text class="dj" x="1448" y="77.2">8</text>
<text class="dj" x="1448" y="53.7">8.2</text>
</g>
<text class="dj" transform="translate(1468.5,226) rotate(90)" text-anchor="middle" font-size="9">Combined magnitude</text>
<text x="29.6" y="416.8" class="t" font-size="9.6" textLength="48.0" lengthAdjust="spacingAndGlyphs">1 Jan 2010</text>
<text x="159.8" y="416.8" class="t" font-size="9.6" textLength="23.4" lengthAdjust="spacingAndGlyphs">1 Feb</text>
<text x="265.3" y="416.8" class="t" font-size="9.6" textLength="25.3" lengthAdjust="spacingAndGlyphs">1 Mar</text>
<text x="384.4" y="416.8" class="t" font-size="9.6" textLength="22.9" lengthAdjust="spacingAndGlyphs">1 Apr</text>
<text x="496.8" y="416.8" class="t" font-size="9.6" textLength="26.4" lengthAdjust="spacingAndGlyphs">1 May</text>
<text x="616.8" y="416.8" class="t" font-size="9.6" textLength="22.2" lengthAdjust="spacingAndGlyphs">1 Jun</text>
<text x="732.4" y="416.8" class="t" font-size="9.6" textLength="19.1" lengthAdjust="spacingAndGlyphs">1 Jul</text>
<text x="847.6" y="416.8" class="t" font-size="9.6" textLength="24.4" lengthAdjust="spacingAndGlyphs">1 Aug</text>
<text x="966.0" y="416.8" class="t" font-size="9.6" textLength="23.4" lengthAdjust="spacingAndGlyphs">1 Sep</text>
<text x="1080.4" y="416.8" class="t" font-size="9.6" textLength="22.8" lengthAdjust="spacingAndGlyphs">1 Oct</text>
<text x="1197.3" y="416.8" class="t" font-size="9.6" textLength="24.9" lengthAdjust="spacingAndGlyphs">1 Nov</text>
<text x="1311.9" y="416.8" class="t" font-size="9.6" textLength="23.9" lengthAdjust="spacingAndGlyphs">1 Dec</text>
<text x="1417.8" y="416.8" class="t" font-size="9.6" textLength="47.7" lengthAdjust="spacingAndGlyphs">1 Jan 2011</text>
<text x="51.6" y="437.6" class="t" font-size="11.2" textLength="33.3" lengthAdjust="spacingAndGlyphs">Notes:</text>
<text x="51.6" y="452.2" class="t" font-size="11.2" textLength="367" lengthAdjust="spacingAndGlyphs">Data incomplete for smaller quakes (M&lt;4), near complete from M4.</text>
<text x="51.6" y="468" class="t" font-size="11.2" textLength="357" lengthAdjust="spacingAndGlyphs">Quake data: www.volcanodiscovery.com/earthquakes/today.html</text>
<polygon points="1286.4,484.8 1308,469.2 1320,469.2 1340.8,484.8" fill="#000"/>
<text x="1305" y="467.1" font-size="22.8" font-weight="bold" stroke="#000" stroke-width="0.8" textLength="117.9" lengthAdjust="spacingAndGlyphs">VOLCANO</text>
<text x="1343" y="484.4" font-size="20.8" stroke="#c2161e" stroke-width="0.85" textLength="108" lengthAdjust="spacingAndGlyphs" style="fill:#c2161e">DISCOVERY</text>
</svg></body></html>
